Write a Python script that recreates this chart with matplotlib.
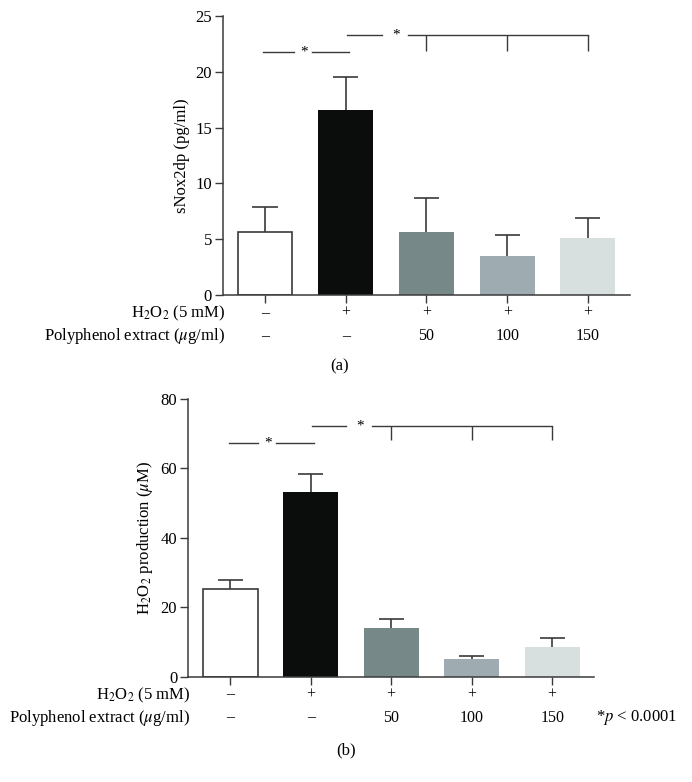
import matplotlib
matplotlib.use("Agg")
import matplotlib.pyplot as plt
import matplotlib.transforms as mtrans

plt.rcParams['font.family'] = ['Liberation Serif', 'DejaVu Serif']
plt.rcParams['mathtext.fontset'] = 'stix'
plt.rcParams['font.size'] = 10.5

# data
h2o2_row = ['\u2013', '+', '+', '+', '+']
extract_row = ['\u2013', '\u2013', '50', '100', '150']
bar_colors = ['white', '#0a0d0b', '#768888', '#9eacb2', '#d8e0df']

nox_mean = [5.6, 16.6, 5.6, 3.45, 5.1]
nox_err = [2.25, 2.9, 3.05, 1.9, 1.8]

h2o2_mean = [25.3, 53.1, 14.0, 5.0, 8.5]
h2o2_err = [2.4, 5.3, 2.5, 1.0, 2.7]

EDGE = '#3a3a3a'


def draw_panel(ax, means, errs, ymax, yticks, ylabel, sig1, sig2, tick_low):
    x = list(range(len(means)))
    for i, (m, c) in enumerate(zip(means, bar_colors)):
        if c == 'white':
            ax.bar(i, m, width=0.68, color=c, edgecolor=EDGE, linewidth=1.2, zorder=2)
        else:
            ax.bar(i, m, width=0.68, color=c, edgecolor='none', zorder=2)
    # upper error bars only
    for i, (m, e) in enumerate(zip(means, errs)):
        ax.vlines(i, m, m + e, color=EDGE, lw=1.2, zorder=3)
        ax.hlines(m + e, i - 0.155, i + 0.155, color=EDGE, lw=1.2, zorder=3)

    ax.set_xlim(-0.52, 4.52)
    ax.set_ylim(0, ymax)
    ax.set_yticks(yticks)
    ax.set_xticks(x)
    ax.set_xticklabels([])
    ax.tick_params(axis='both', direction='out', length=6, width=1, color=EDGE, labelsize=12)
    ax.tick_params(axis='y', pad=2)
    for s in ['top', 'right']:
        ax.spines[s].set_visible(False)
    for s in ['left', 'bottom']:
        ax.spines[s].set_color(EDGE)
        ax.spines[s].set_linewidth(1.1)
    ax.set_ylabel(ylabel, fontsize=12)

    # significance brackets
    y1, gap1 = sig1
    ax.plot([-0.02, gap1 - 0.12], [y1, y1], color=EDGE, lw=1)
    ax.plot([gap1 + 0.1, 1.04], [y1, y1], color=EDGE, lw=1)
    ax.text(gap1, y1, '*', ha='center', va='center', fontsize=11)
    y2, gap2 = sig2
    ax.plot([1.02, gap2 - 0.17], [y2, y2], color=EDGE, lw=1)
    ax.plot([gap2 + 0.15, 4.0], [y2, y2], color=EDGE, lw=1)
    ax.text(gap2, y2, '*', ha='center', va='center', fontsize=11)
    for i in [2, 3, 4]:
        ax.vlines(i, tick_low, y2, color=EDGE, lw=1)

    # treatment rows under the axis
    tr = mtrans.blended_transform_factory(ax.transData, ax.transAxes)
    for i in x:
        ax.text(i, -0.064, h2o2_row[i], transform=tr, ha='center', va='center', fontsize=11.5)
        ax.text(i, -0.147, extract_row[i], transform=tr, ha='center', va='center', fontsize=11.5)
    ax.text(0.005, -0.066, r'H$_2$O$_2$ (5 mM)', transform=ax.transAxes,
            ha='right', va='center', fontsize=12)
    ax.text(0.005, -0.147, r'Polyphenol extract ($\mu$g/ml)', transform=ax.transAxes,
            ha='right', va='center', fontsize=12)


fig = plt.figure(figsize=(6.92, 7.82), dpi=100)

ax1 = fig.add_axes([0.3223, 0.6228, 0.588, 0.3568])
draw_panel(ax1, nox_mean, nox_err, 25, [0, 5, 10, 15, 20, 25], 'sNox2dp (pg/ml)',
           (21.8, 0.48), (23.3, 1.62), 21.9)

ax2 = fig.add_axes([0.2721, 0.1347, 0.5863, 0.3555])
draw_panel(ax2, h2o2_mean, h2o2_err, 80, [0, 20, 40, 60, 80],
           r'H$_2$O$_2$ production ($\mu$M)',
           (67.2, 0.47), (72.2, 1.61), 68.0)
ax2.text(1.004, -0.147, r'*$p$ < 0.0001', transform=ax2.transAxes,
         ha='left', va='center', fontsize=12)

fig.text(0.49, 1 - 366.7 / 782, '(a)', ha='center', va='center', fontsize=12)
fig.text(0.50, 1 - 750 / 782, '(b)', ha='center', va='center', fontsize=12)

fig.savefig('out.png', dpi=100)
